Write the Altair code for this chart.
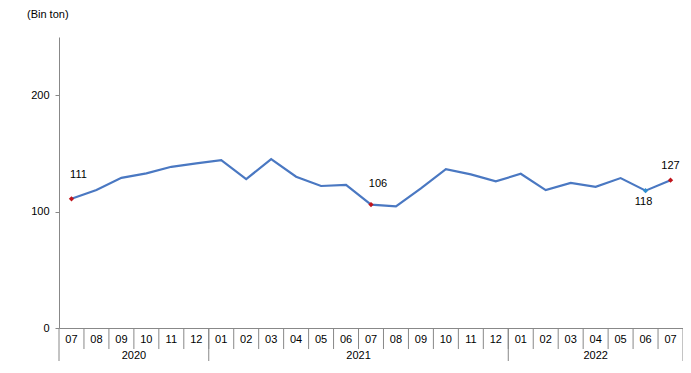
import altair as alt
import pandas as pd

months = ["07", "08", "09", "10", "11", "12",
          "01", "02", "03", "04", "05", "06", "07", "08", "09", "10", "11", "12",
          "01", "02", "03", "04", "05", "06", "07"]
years = ["2020", "2021", "2022"]
year_counts = [6, 12, 7]
values = [111, 118.5, 129, 132.8, 138.5, 141.4,
          144.2, 128, 145, 130, 122, 123, 106, 104.5, 120, 136.5, 132, 126,
          132.5, 118.5, 124.7, 121.3, 128.8, 118, 127]
y_ticks = [0, 100, 200]

FONT = "Liberation Sans"
n = len(months)
df = pd.DataFrame({"i": list(range(n)), "v": values, "m": months})

# year blocks
ystart = []
s = 0
for c in year_counts:
    ystart.append(s)
    s += c
year_df = pd.DataFrame({"year": years,
                        "c": [st + (c - 1) / 2 for st, c in zip(ystart, year_counts)]})
short_sep = pd.DataFrame({"b": [i - 0.5 for i in range(1, n)]})
long_sep = pd.DataFrame({"b": [st - 0.5 for st in ystart] + [n - 0.5]})

xs = alt.Scale(domain=[-0.5, n - 0.5], nice=False, zero=False)
ys = alt.Scale(domain=[0, 250], nice=False)

base = alt.Chart(df)

line = base.mark_line(color="#4A78C2", strokeWidth=2.2).encode(
    x=alt.X("i:Q", scale=xs,
            axis=alt.Axis(labels=False, ticks=False, grid=False, title=None,
                          domainColor="#888888", domainWidth=1)),
    y=alt.Y("v:Q", scale=ys,
            axis=alt.Axis(values=y_ticks, grid=False, title=None, tickSize=4,
                          labelPadding=6, domainColor="#888888", tickColor="#888888",
                          labelFont=FONT, labelFontSize=11, labelColor="#000000")),
)

red_idx = [0, 12, 24]
red_pts = base.transform_filter(
    alt.FieldOneOfPredicate(field="i", oneOf=red_idx)
).mark_point(shape="diamond", filled=True, size=28, color="#C0141C", opacity=1).encode(
    x=alt.X("i:Q", scale=xs), y=alt.Y("v:Q", scale=ys))
blue_pt = base.transform_filter(alt.datum.i == 23).mark_point(
    shape="diamond", filled=True, size=28, color="#2E8FD0", opacity=1).encode(
    x=alt.X("i:Q", scale=xs), y=alt.Y("v:Q", scale=ys))

def label(idx, dx, dy):
    return base.transform_filter(alt.datum.i == idx).mark_text(
        font=FONT, fontSize=11, color="#000000", dx=dx, dy=dy).encode(
        x=alt.X("i:Q", scale=xs), y=alt.Y("v:Q", scale=ys),
        text=alt.Text("v:Q", format=".0f"))

labels = label(0, 7, -24) + label(12, 7, -21) + label(24, 0, -14) + label(23, -2, 11)

short_rules = alt.Chart(short_sep).mark_rule(color="#888888", strokeWidth=1).encode(
    x=alt.X("b:Q", scale=xs), y=alt.value(291), y2=alt.value(312))
long_rules = alt.Chart(long_sep).mark_rule(color="#888888", strokeWidth=1).encode(
    x=alt.X("b:Q", scale=xs), y=alt.value(291), y2=alt.value(324))

month_text = base.mark_text(font=FONT, fontSize=11, color="#000000").encode(
    x=alt.X("i:Q", scale=xs), y=alt.value(303), text="m:N")
year_text = alt.Chart(year_df).mark_text(font=FONT, fontSize=11, color="#000000").encode(
    x=alt.X("c:Q", scale=xs), y=alt.value(319), text="year:N")

title = alt.Chart(pd.DataFrame({"t": ["(Bin  ton)"]})).mark_text(
    font=FONT, fontSize=11, color="#000000", align="left", baseline="top").encode(
    x=alt.value(-32), y=alt.value(-28), text="t:N")

chart = alt.layer(short_rules, long_rules, line, red_pts, blue_pt, labels,
                  month_text, year_text, title).properties(
    width=624, height=291,
    padding={"left": 51, "top": 29, "right": 0, "bottom": 33},
    autosize=alt.AutoSizeParams(type="none"),
).configure_view(stroke=None)

chart.save("out.html", embed_options={"renderer": "svg", "actions": False})
